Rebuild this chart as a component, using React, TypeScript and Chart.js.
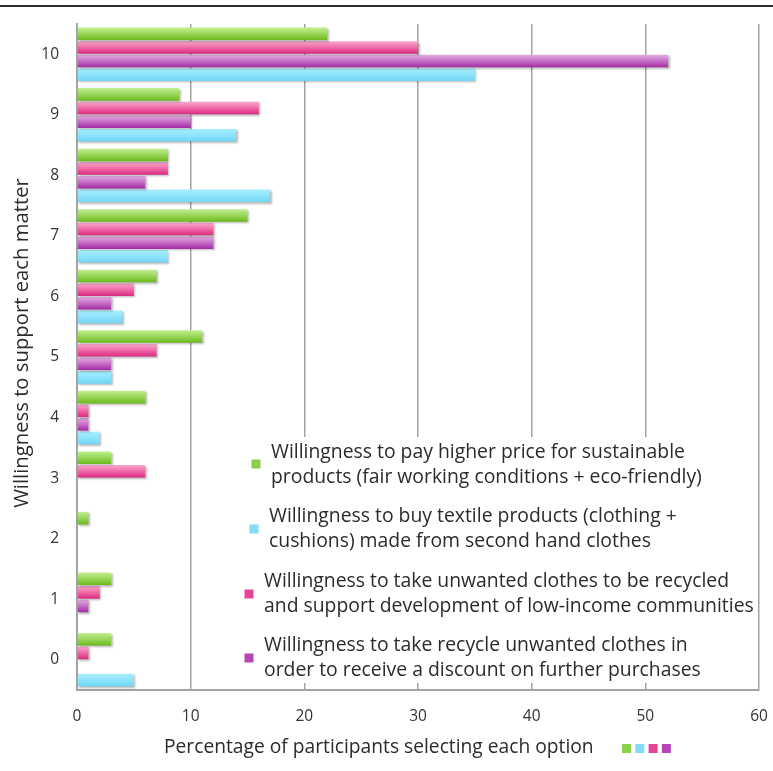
import React, { useEffect, useRef } from 'react';
import { Chart, registerables } from 'chart.js';

Chart.register(...registerables);

// ---------- data ----------
const categories = ['10', '9', '8', '7', '6', '5', '4', '3', '2', '1', '0'];
const payHigherPrice = [22, 9, 8, 15, 7, 11, 6, 3, 1, 3, 3];
const recycleForCommunities = [30, 16, 8, 12, 5, 7, 1, 6, 0, 2, 1];
const recycleForDiscount = [52, 10, 6, 12, 3, 3, 1, 0, 0, 1, 0];
const buySecondHand = [35, 14, 17, 8, 4, 3, 2, 0, 0, 0, 5];
const xMin = 0;
const xMax = 60;
const xStep = 10;

const xTitle = 'Percentage of participants selecting each option';
const yTitle = 'Willingness to support each matter';

const legendGreen = ['Willingness to pay higher price for sustainable', 'products (fair working conditions + eco-friendly)'];
const legendCyan = ['Willingness to buy textile products (clothing +', 'cushions) made from second hand clothes'];
const legendPink = ['Willingness to take unwanted clothes to be recycled', 'and support development of low-income communities'];
const legendPurple = ['Willingness to take recycle unwanted clothes in', 'order to receive a discount on further purchases'];

// ---------- style ----------
const FAMILY = "'Open Sans', 'Noto Sans', sans-serif";
const GREEN = ['#c2ee92', '#94d452', '#6cb81c'];
const PINK = ['#f9a9cd', '#ee63a3', '#d92a80'];
const PURPLE = ['#e3aee2', '#c466c3', '#a02ca3'];
const CYAN = ['#a8eeff', '#8be2fb', '#72d5f4'];
const SWATCH = { green: '#8ccf4a', cyan: '#84dcf7', pink: '#e64597', purple: '#b446b6' };
const GRID = '#a3a3a3';
const TEXT = '#2b2b2b';
const CAT_PCT = 0.9;
const BAR_PCT = 0.92;

const barFill = (stops: string[]) => (c: any) => {
  const chart = c.chart;
  const area = chart.chartArea;
  const y = chart.scales && chart.scales.y;
  if (!area || !y || c.type !== 'data') return stops[1];
  const n = chart.data.labels.length;
  const catH = (area.bottom - area.top) / n;
  const center = y.getPixelForValue(c.dataIndex);
  const groupH = catH * CAT_PCT;
  const slot = groupH / chart.data.datasets.length;
  const top = center - groupH / 2 + slot * c.datasetIndex + (slot * (1 - BAR_PCT)) / 2;
  const h = slot * BAR_PCT;
  if (!isFinite(top) || !isFinite(h)) return stops[1];
  const g = chart.ctx.createLinearGradient(0, top, 0, top + h);
  g.addColorStop(0, stops[0]);
  g.addColorStop(0.55, stops[1]);
  g.addColorStop(1, stops[2]);
  return g;
};

const fitSize = (ctx: CanvasRenderingContext2D, text: string, width: number) => {
  ctx.font = `100px ${FAMILY}`;
  const w = ctx.measureText(text).width;
  return (100 * width) / w;
};

const shadowPlugin = {
  id: 'barShadow',
  beforeDatasetsDraw(chart: any) {
    const ctx = chart.ctx;
    ctx.save();
    ctx.shadowColor = 'rgba(0,0,0,0.28)';
    ctx.shadowOffsetX = 1.5;
    ctx.shadowOffsetY = 1.5;
    ctx.shadowBlur = 2;
  },
  afterDatasetsDraw(chart: any) {
    chart.ctx.restore();
  },
};

const decorPlugin = {
  id: 'decor',
  afterDatasetsDraw(chart: any) {
    const ctx: CanvasRenderingContext2D = chart.ctx;
    ctx.save();
    // legend box
    ctx.fillStyle = '#ffffff';
    ctx.fillRect(240, 437, 516, 246);
    const size = fitSize(ctx, legendPink[1], 490);
    ctx.font = `${size}px ${FAMILY}`;
    ctx.textBaseline = 'middle';
    ctx.textAlign = 'left';
    const entries = [
      { lines: legendGreen, color: SWATCH.green, mx: 256, my: 464, tx: 271, ty: 452 },
      { lines: legendCyan, color: SWATCH.cyan, mx: 254, my: 529, tx: 269, ty: 516 },
      { lines: legendPink, color: SWATCH.pink, mx: 249, my: 594, tx: 264, ty: 581 },
      { lines: legendPurple, color: SWATCH.purple, mx: 249, my: 658, tx: 264, ty: 645 },
    ];
    for (const e of entries) {
      ctx.fillStyle = e.color;
      ctx.fillRect(e.mx - 4.5, e.my - 4.5, 9, 9);
      ctx.fillStyle = TEXT;
      e.lines.forEach((l, i) => ctx.fillText(l, e.tx, e.ty + i * 25.5));
    }
    ctx.restore();
  },
  afterDraw(chart: any) {
    const ctx: CanvasRenderingContext2D = chart.ctx;
    ctx.save();
    // top rule
    ctx.fillStyle = '#2e2e2e';
    ctx.fillRect(0, 5, chart.width, 2);
    // x title
    const xs = fitSize(ctx, xTitle, 430);
    ctx.font = `${xs}px ${FAMILY}`;
    ctx.fillStyle = TEXT;
    ctx.textBaseline = 'middle';
    ctx.textAlign = 'left';
    ctx.fillText(xTitle, 164, 748);
    [SWATCH.green, SWATCH.cyan, SWATCH.pink, SWATCH.purple].forEach((c, i) => {
      ctx.fillStyle = c;
      ctx.fillRect(622 + i * 13.3, 744, 9, 9);
    });
    // y title
    const ys = fitSize(ctx, yTitle, 330);
    ctx.font = `${ys}px ${FAMILY}`;
    ctx.fillStyle = TEXT;
    ctx.translate(22, 343);
    ctx.rotate(-Math.PI / 2);
    ctx.textAlign = 'center';
    ctx.fillText(yTitle, 0, 0);
    ctx.restore();
  },
};

export default function App() {
  const ref = useRef<HTMLCanvasElement>(null);
  useEffect(() => {
    if (!ref.current) return;
    const mk = (label: string, data: number[], stops: string[]) => ({
      label,
      data,
      backgroundColor: barFill(stops),
      borderWidth: 0,
      categoryPercentage: CAT_PCT,
      barPercentage: BAR_PCT,
    });
    const chart = new Chart(ref.current, {
      type: 'bar',
      data: {
        labels: categories,
        datasets: [
          mk(legendGreen.join(' '), payHigherPrice, GREEN),
          mk(legendPink.join(' '), recycleForCommunities, PINK),
          mk(legendPurple.join(' '), recycleForDiscount, PURPLE),
          mk(legendCyan.join(' '), buySecondHand, CYAN),
        ],
      },
      options: {
        indexAxis: 'y',
        responsive: false,
        animation: false,
        events: [],
        layout: { padding: { top: 24, right: 14, left: 0, bottom: 0 } },
        plugins: { legend: { display: false }, tooltip: { enabled: false }, title: { display: false } },
        scales: {
          x: {
            min: xMin,
            max: xMax,
            ticks: { stepSize: xStep, color: '#333', font: { size: 15.5, family: FAMILY }, padding: 17 },
            grid: { color: GRID, lineWidth: 1.5, drawTicks: false },
            border: { color: GRID, width: 2 },
            afterFit: (s: any) => { s.height = 81; s.paddingLeft = 0; s.paddingRight = 0; },
          },
          y: {
            ticks: { color: '#333', font: { size: 15.5, family: FAMILY }, padding: 18 },
            grid: { display: false, drawTicks: false },
            border: { color: GRID, width: 2 },
            afterFit: (s: any) => { s.width = 77; s.paddingTop = 0; s.paddingBottom = 0; },
          },
        },
      },
      plugins: [shadowPlugin, decorPlugin],
    } as any);
    return () => chart.destroy();
  }, []);
  return (
    <div style={{ position: 'fixed', left: 0, top: 0, width: 773, height: 771, background: '#fff' }}>
      <canvas ref={ref} width={773} height={771} style={{ display: 'block' }} />
    </div>
  );
}
